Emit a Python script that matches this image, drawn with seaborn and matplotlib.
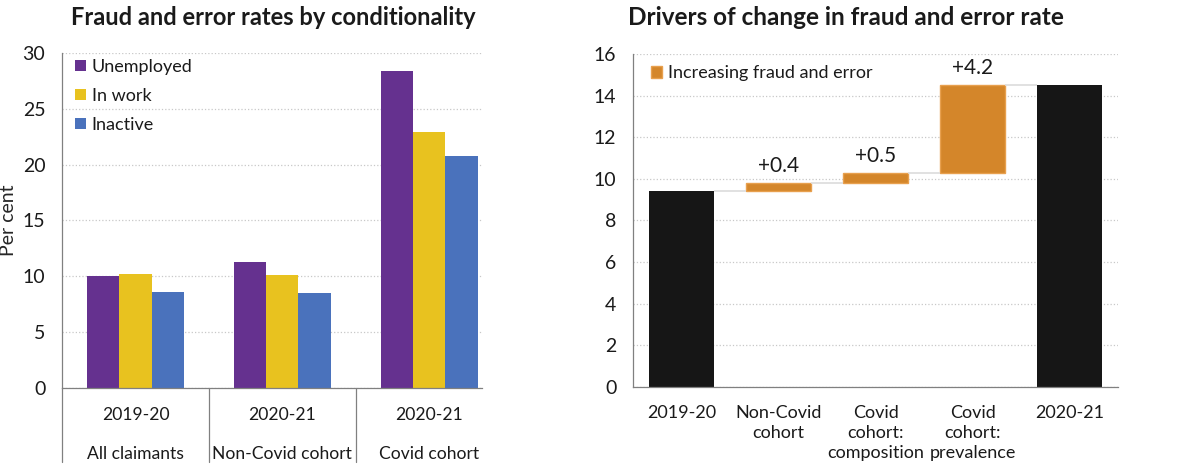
import numpy as np
import pandas as pd
import matplotlib.pyplot as plt
import matplotlib.transforms as mtransforms
import seaborn as sns

# left panel data
years = ['2019-20', '2020-21', '2020-21']
groups = ['All claimants', 'Non-Covid cohort', 'Covid cohort']
conditions = ['Unemployed', 'In work', 'Inactive']
unemployed = [10.0, 11.3, 28.4]
in_work = [10.2, 10.1, 22.9]
inactive = [8.6, 8.5, 20.8]

# right panel data
steps = ['2019-20', 'Non-Covid\ncohort', 'Covid\ncohort:\ncomposition',
         'Covid\ncohort:\nprevalence', '2020-21']
start_rate = 9.4
changes = [0.4, 0.5, 4.2]
end_rate = 14.5

sns.set_style('white')
plt.rcParams['font.family'] = ['Lato', 'DejaVu Sans']
plt.rcParams['text.color'] = '#1a1a1a'
plt.rcParams['xtick.color'] = '#808080'
plt.rcParams['ytick.color'] = '#808080'
plt.rcParams['xtick.labelcolor'] = '#1a1a1a'
plt.rcParams['ytick.labelcolor'] = '#1a1a1a'

fig = plt.figure(figsize=(12, 4.71), dpi=100)
ax1 = fig.add_axes([0.0517, 0.1762, 0.35, 0.7113])
ax2 = fig.add_axes([0.5275, 0.1783, 0.4042, 0.7071])

rows = []
for i, g in enumerate(groups):
    for c, vals in zip(conditions, [unemployed, in_work, inactive]):
        rows.append({'group': g, 'condition': c, 'rate': vals[i]})
df = pd.DataFrame(rows)

palette = {'Unemployed': '#65318F', 'In work': '#E8C21F', 'Inactive': '#4A72BC'}
sns.barplot(data=df, x='group', y='rate', hue='condition', order=groups,
            hue_order=conditions, palette=palette, width=0.66, saturation=1,
            linewidth=0, ax=ax1)

ax1.set_xlim(-0.5, 2.36)
ax1.set_ylim(0, 30)
ax1.set_yticks(range(0, 31, 5))
ax1.set_xticks(range(3))
ax1.set_xticklabels([f'{y}\n{g}' for y, g in zip(years, groups)], linespacing=2.72)
ax1.tick_params(axis='x', length=0, pad=14, labelsize=12.6)
ax1.tick_params(axis='y', length=5, width=0.8, pad=7, labelsize=14)
ax1.set_xlabel('')
ax1.set_ylabel('Per cent', fontsize=14)
ax1.yaxis.set_label_coords(-0.107, 0.5)
ax1.yaxis.grid(True, ls=':', color='#c8c8c8', lw=0.9)
ax1.set_axisbelow(True)
sns.despine(ax=ax1)
for s in ['left', 'bottom']:
    ax1.spines[s].set_color('#808080')
    ax1.spines[s].set_linewidth(0.9)
trans = mtransforms.blended_transform_factory(ax1.transData, ax1.transAxes)
for b in [-0.5, 0.5, 1.5]:
    ax1.plot([b, b], [0, -0.221], transform=trans, color='#808080', lw=0.9, clip_on=False)
ax1.legend(loc='upper left', bbox_to_anchor=(0.0, 1.02), frameon=False, fontsize=13,
           handlelength=0.6, handleheight=0.6, handletextpad=0.35, labelspacing=0.72,
           borderaxespad=0.3)

# waterfall
cum = start_rate + np.cumsum(changes)
bottoms = np.concatenate([[start_rate], cum[:-1]])
orange = '#D4862A'
sns.barplot(x=[steps[0], steps[4]], y=[start_rate, end_rate], order=steps,
            color='#161616', width=0.67, saturation=1, linewidth=0, ax=ax2)
sns.barplot(x=steps[1:4], y=changes, order=steps, bottom=bottoms, color=orange,
            edgecolor='#E8A04E', linewidth=1, width=0.67, saturation=1, ax=ax2,
            label='Increasing fraud and error')
ax2.bar_label(ax2.containers[1], labels=[f'+{c}' for c in changes], padding=5, fontsize=15)

levels = np.concatenate([[start_rate], cum])
xpos = np.arange(len(steps))
w = 0.67
ax2.hlines(levels, xpos[:-1] + w / 2, xpos[1:] - w / 2, color='#dcdcdc', lw=1.2, zorder=1)

ax2.set_xlim(-0.5, 4.5)
ax2.set_ylim(0, 16)
ax2.set_yticks(range(0, 17, 2))
ax2.set_xticks(np.arange(-0.5, 5, 1))
ax2.set_xticklabels([''] * 6)
ax2.set_xticks(xpos, minor=True)
ax2.set_xticklabels(steps, minor=True, linespacing=1.3)
ax2.tick_params(axis='x', which='major', length=5, width=0.8)
ax2.tick_params(axis='x', which='minor', length=0, pad=13, labelsize=13)
ax2.tick_params(axis='y', length=5, width=0.8, pad=7, labelsize=14)
ax2.set_xlabel('')
ax2.set_ylabel('')
ax2.yaxis.grid(True, ls=':', color='#c8c8c8', lw=0.9)
ax2.set_axisbelow(True)
sns.despine(ax=ax2)
for s in ['left', 'bottom']:
    ax2.spines[s].set_color('#808080')
    ax2.spines[s].set_linewidth(0.9)
ax2.legend(loc='upper left', bbox_to_anchor=(0.0, 1.02), frameon=False, fontsize=13,
           handlelength=0.6, handleheight=0.6, handletextpad=0.35, borderaxespad=0.6)

fig.text(0.228, 0.962, 'Fraud and error rates by conditionality', ha='center', va='center',
         fontsize=17, fontweight='bold')
fig.text(0.705, 0.962, 'Drivers of change in fraud and error rate', ha='center', va='center',
         fontsize=17.5, fontweight='bold')

fig.savefig('out.png', dpi=100)
